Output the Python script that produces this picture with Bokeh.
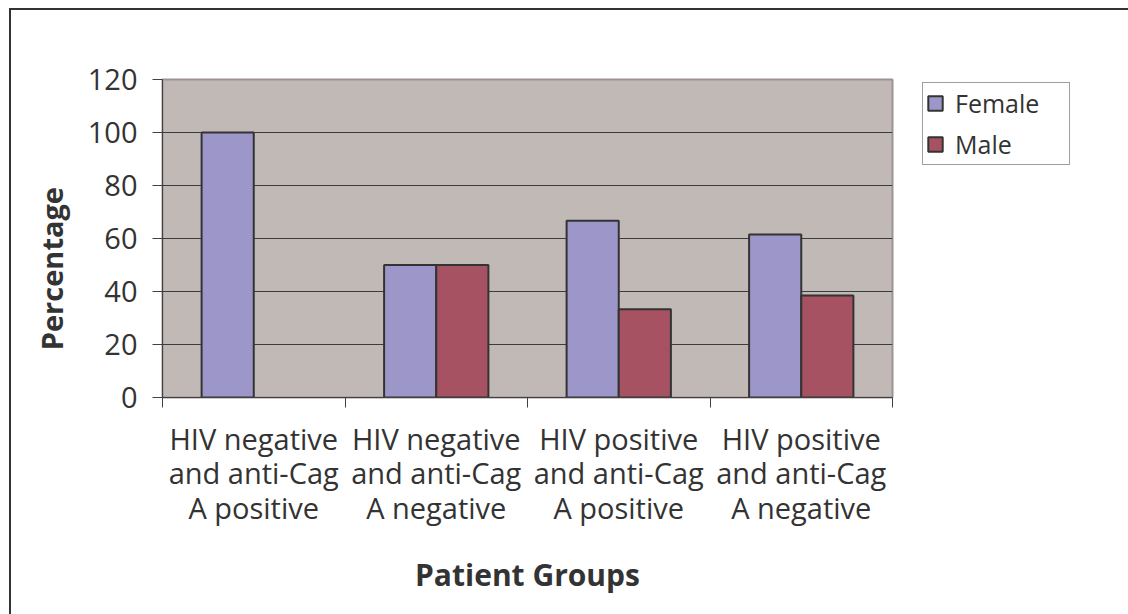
from bokeh.plotting import figure
from bokeh.models import (ColumnDataSource, FixedTicker, Legend, LegendItem, Range1d)
from bokeh.embed import file_html
from bokeh.resources import INLINE

# ---- data ----
categories = ["HIV negative\nand anti-Cag\nA positive",
              "HIV negative\nand anti-Cag\nA negative",
              "HIV positive\nand anti-Cag\nA positive",
              "HIV positive\nand anti-Cag\nA negative"]
female = [100.0, 50.0, 66.7, 61.5]
male = [0.0, 50.0, 33.3, 38.5]
y_ticks = [0, 20, 40, 60, 80, 100, 120]
series_names = ["Female", "Male"]
y_title = "Percentage"
x_title = "Patient Groups"

FONT = "Open Sans"
TXT = "#333333"

n = len(categories)
bar_w = 1 / 3.5
idx = list(range(n))
src_f = ColumnDataSource(dict(x=[i + 0.5 - bar_w / 2 for i in idx if female[i] > 0],
                              top=[v for v in female if v > 0]))
src_m = ColumnDataSource(dict(x=[i + 0.5 + bar_w / 2 for i in idx if male[i] > 0],
                              top=[v for v in male if v > 0]))

p = figure(frame_width=730, frame_height=318, output_backend="svg", toolbar_location=None,
           x_range=Range1d(0, n), y_range=Range1d(0, 120),
           min_border_left=162, min_border_top=79, min_border_right=236,
           min_border_bottom=217)
p.styles = {"box-shadow": "inset 9px 8px 0 0 #ffffff, inset 11px 10px 0 0 #333333"}
p.border_fill_alpha = 0
p.background_fill_color = "#c1b9b6"
p.outline_line_color = "#9e9292"
p.outline_line_width = 2

rf = p.vbar(x="x", top="top", width=bar_w, bottom=0, source=src_f,
            fill_color="#9c96c9", line_color="#333333", line_width=2)
rm = p.vbar(x="x", top="top", width=bar_w, bottom=0, source=src_m,
            fill_color="#a65262", line_color="#333333", line_width=2)

# grid
p.xgrid.visible = False
p.ygrid.ticker = FixedTicker(ticks=y_ticks)
p.ygrid.grid_line_color = "#3c3c3c"
p.ygrid.grid_line_width = 1

# y axis
ya = p.yaxis[0]
ya.ticker = FixedTicker(ticks=y_ticks)
ya.axis_line_color = "#404040"
ya.major_tick_line_color = "#404040"
ya.major_tick_out = 10
ya.major_tick_in = 0
ya.minor_tick_line_color = None
ya.major_label_standoff = 15
ya.major_label_text_font = FONT
ya.major_label_text_font_size = "29px"
ya.major_label_text_color = TXT
ya.axis_label = y_title + "\u00a0" * 8
ya.axis_label_text_font = FONT
ya.axis_label_text_font_style = "bold"
ya.axis_label_text_font_size = "29px"
ya.axis_label_text_color = TXT
ya.axis_label_standoff = 14

# x axis
xa = p.xaxis[0]
xa.ticker = FixedTicker(ticks=[i + 0.5 for i in idx], minor_ticks=list(range(n + 1)))
xa.major_label_overrides = {i + 0.5: c for i, c in zip(idx, categories)}
xa.axis_line_color = "#404040"
xa.major_tick_line_color = None
xa.major_tick_out = 0
xa.major_tick_in = 0
xa.minor_tick_line_color = "#404040"
xa.minor_tick_out = 10
xa.minor_tick_in = 0
xa.major_label_standoff = 11
xa.major_label_text_font = FONT
xa.major_label_text_font_size = "29px"
xa.major_label_text_color = TXT
xa.major_label_text_line_height = 0.89
xa.axis_label = x_title
xa.axis_label_text_font = FONT
xa.axis_label_text_font_style = "bold"
xa.axis_label_text_font_size = "30px"
xa.axis_label_text_color = TXT
xa.axis_label_standoff = 24

legend = Legend(items=[LegendItem(label=series_names[0], renderers=[rf]),
                       LegendItem(label=series_names[1], renderers=[rm])],
                location=(30, 232))
legend.border_line_color = "#404040"
legend.border_line_width = 1
legend.background_fill_color = "white"
legend.glyph_width = 18
legend.glyph_height = 18
legend.label_standoff = 11
legend.label_text_font = FONT
legend.label_text_font_size = "25px"
legend.label_text_color = TXT
legend.padding = 3
legend.spacing = 7
legend.label_width = 111
legend.margin = 0
p.add_layout(legend, "right")

open("out.html", "w").write(file_html(p, INLINE))
